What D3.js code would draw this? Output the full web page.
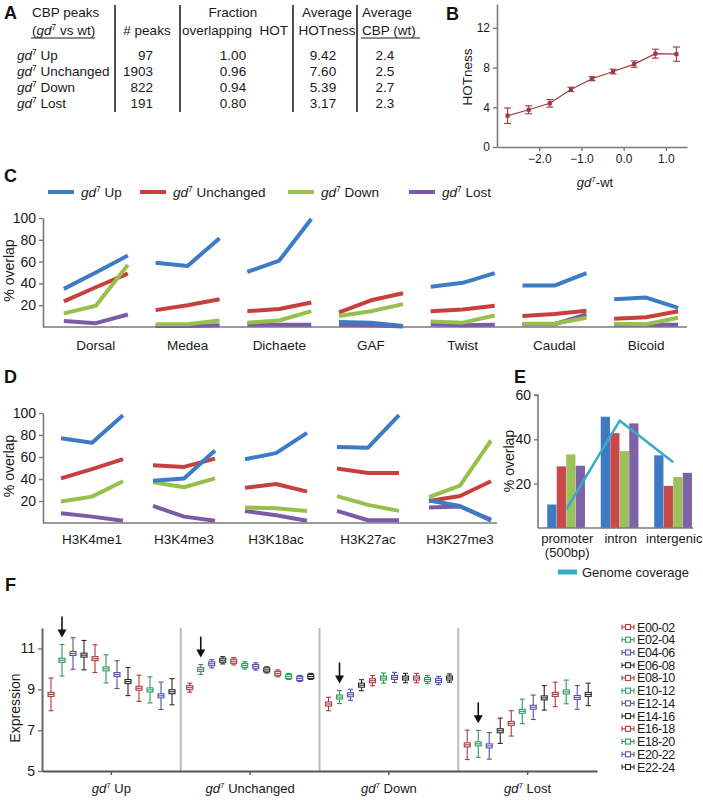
<!DOCTYPE html>
<html><head><meta charset="utf-8">
<script src="https://cdn.jsdelivr.net/npm/d3@7"></script>
<style>
html,body{margin:0;padding:0;background:#fff;}
svg{display:block;font-family:"Liberation Sans",Arial,Helvetica,sans-serif;}
</style></head><body>
<svg id="c" width="703" height="800"></svg>
<script>
// ---------- DATA ----------
// Panel A table
const tableRows = ["Up", "Unchanged", "Down", "Lost"];
const tablePeaks = ["97", "1903", "822", "191"];
const tableFracHOT = ["1.00", "0.96", "0.94", "0.80"];
const tableHOTness = ["9.42", "7.60", "5.39", "3.17"];
const tableCBP = ["2.4", "2.5", "2.7", "2.3"];

// Panel B
const hotX = [-2.75, -2.25, -1.75, -1.25, -0.75, -0.25, 0.25, 0.75, 1.25];
const hotY = [3.15, 3.75, 4.4, 5.8, 6.87, 7.6, 8.35, 9.4, 9.35];
const hotErr = [0.78, 0.4, 0.38, 0.22, 0.2, 0.24, 0.32, 0.45, 0.72];
const hotXTicks = [-2, -1, 0, 1];
const hotYTicks = [0, 4, 8, 12];

// Series (shared by C, D, E)
const seriesNames = ["Up", "Unchanged", "Down", "Lost"];

// Panel C
const tfCats = ["Dorsal", "Medea", "Dichaete", "GAF", "Twist", "Caudal", "Bicoid"];
const cUp   = [[35,50,65.5],[59,56,81.5],[50.5,61,99],[4.5,4,1],[37,40.5,49.5],[38,38,49.5],[25.5,27,17.5]];
const cUnch = [[23.5,36.5,49],[15.5,20,25.5],[14.5,16.5,22.5],[13.5,24.5,31],[14.5,16,19.5],[10,12,15],[7.5,9,14.5]];
const cDown = [[12.5,19.5,57],[2.5,2.5,6],[4,6,14.5],[10,14.5,21],[5,4,10.5],[3,3,8.5],[3,2.5,8.5]];
const cLost = [[5.5,3.5,11.5],[1,1,1.5],[2,2,2],[2,1.5,0.5],[2.5,1.5,2],[2.5,2.5,11.5],[2,2,2]];

// Panel D
const histCats = ["H3K4me1", "H3K4me3", "H3K18ac", "H3K27ac", "H3K27me3"];
const dUp   = [[77,73,98],[38.5,40.5,66],[58,63.5,82],[69,68.5,98],[20.5,15.5,2]];
const dUnch = [[40.5,49,58],[52.5,51,58.5],[32,35.5,28.5],[49.5,45.5,45.5],[20,24.5,38]];
const dDown = [[19.5,24,38],[37,32.5,40.5],[14,13.5,11],[24.5,16.5,11],[23.5,34,75]];
const dLost = [[8.8,5.8,2],[15.5,5.8,2],[11,7,2],[11,2.5,2.5],[14,15,3]];
const overlapTicks = [20, 40, 60, 80, 100];

// Panel E
const regionCats = ["promoter", "intron", "intergenic"];
const regionSub = ["(500bp)", "", ""];
const eUp = [10.6, 50.2, 32.8];
const eUnch = [27.8, 42.8, 19];
const eDown = [33.2, 34.7, 23];
const eLost = [28.1, 47.2, 24.9];
const genomeCov = [8.4, 48.4, 29.7];
const eTicks = [20, 40, 60];

// Panel F
const stages = ["E00-02","E02-04","E04-06","E06-08","E08-10","E10-12","E12-14","E14-16","E16-18","E18-20","E20-22","E22-24"];
const fUp      = [8.75,10.42,10.75,10.67,10.5,10.0,9.72,9.38,9.05,8.97,8.68,8.88];
const fUpErr   = [0.8,0.77,0.77,0.72,0.68,0.69,0.68,0.69,0.64,0.64,0.67,0.64];
const fUnch    = [9.08,9.97,10.25,10.42,10.37,10.17,10.12,9.95,9.78,9.63,9.53,9.63];
const fUnchErr = [0.22,0.24,0.2,0.18,0.18,0.18,0.18,0.15,0.17,0.15,0.15,0.15];
const fDown    = [8.28,8.62,8.73,9.2,9.42,9.55,9.58,9.55,9.55,9.48,9.43,9.55];
const fDownErr = [0.33,0.32,0.27,0.27,0.25,0.25,0.25,0.23,0.23,0.2,0.2,0.2];
const fLost    = [6.28,6.33,6.23,6.97,7.33,7.92,8.12,8.58,8.75,8.87,8.6,8.75];
const fLostErr = [0.72,0.66,0.65,0.62,0.62,0.6,0.6,0.6,0.6,0.58,0.58,0.55];
const fTicks = [5, 7, 9, 11];
const arrowStage = "E02-04";

// ---------- STYLE ----------
const seriesColors = ["#3c7cc4", "#c8403d", "#96c04c", "#7b5ba6"];
const barColors = ["#3e79c6", "#c9484a", "#9cc05a", "#7e62a6"];
const stageColors = ["#b5383e", "#2e9a60", "#5252b0", "#2a2a2a"];
const axisCol = "#7a7a7a";
const txt = "#1a1a1a";

const svg = d3.select("#c");
svg.append("rect").attr("width", 703).attr("height", 800).attr("fill", "#fff");

function addGd(t, fs, suffix) {
  t.append("tspan").attr("font-style", "italic").text("gd");
  t.append("tspan").attr("font-size", fs * 0.62).attr("dy", -fs * 0.38).text("7");
  t.append("tspan").attr("dy", fs * 0.38).text(suffix);
  return t;
}
function panelLabel(ch, x, y) {
  svg.append("text").attr("x", x).attr("y", y).attr("font-size", 18).attr("font-weight", "bold")
    .attr("fill", "#111").text(ch);
}
function styleAxis(g, fs) {
  g.selectAll(".domain").attr("stroke", axisCol).attr("stroke-width", 1.6);
  g.selectAll(".tick line").attr("stroke", axisCol).attr("stroke-width", 1.4);
  g.selectAll(".tick text").attr("font-size", fs).attr("fill", txt)
    .attr("font-family", '"Liberation Sans",Arial,sans-serif');
}

// ---------- PANEL A ----------
panelLabel("A", 4, 19);
const tA = svg.append("g").attr("font-size", 13.5).attr("fill", txt);
tA.append("text").attr("x", 32).attr("y", 17).text("CBP peaks");
const h2 = tA.append("text").attr("x", 32).attr("y", 35);
h2.append("tspan").text("(");
addGd(h2, 13.5, " vs wt)");
tA.append("line").attr("x1", 31).attr("x2", 95).attr("y1", 38).attr("y2", 38).attr("stroke", txt).attr("stroke-width", 1);
tA.append("text").attr("x", 147).attr("y", 35).attr("text-anchor", "middle").text("# peaks");
tA.append("text").attr("x", 233).attr("y", 17).attr("text-anchor", "middle").text("Fraction");
tA.append("text").attr("x", 235).attr("y", 35).attr("text-anchor", "middle").attr("xml:space", "preserve").text("overlapping  HOT");
tA.append("text").attr("x", 327).attr("y", 17).attr("text-anchor", "middle").text("Average");
tA.append("text").attr("x", 327).attr("y", 35).attr("text-anchor", "middle").text("HOTness");
tA.append("text").attr("x", 362).attr("y", 17).text("Average");
tA.append("text").attr("x", 362).attr("y", 35).text("CBP (wt)");
tA.append("line").attr("x1", 361).attr("x2", 420).attr("y1", 38).attr("y2", 38).attr("stroke", txt).attr("stroke-width", 1);
const rowY = d3.scalePoint().domain(tableRows).range([60, 108]);
tableRows.forEach((r, i) => {
  addGd(tA.append("text").attr("x", 17).attr("y", rowY(r)), 13.5, " " + r);
  tA.append("text").attr("x", 153).attr("y", rowY(r)).attr("text-anchor", "end").text(tablePeaks[i]);
  tA.append("text").attr("x", 233).attr("y", rowY(r)).attr("text-anchor", "middle").text(tableFracHOT[i]);
  tA.append("text").attr("x", 323).attr("y", rowY(r)).attr("text-anchor", "middle").text(tableHOTness[i]);
  tA.append("text").attr("x", 385).attr("y", rowY(r)).attr("text-anchor", "middle").text(tableCBP[i]);
});
[115, 180, 293, 357].forEach(x => {
  tA.append("line").attr("x1", x).attr("x2", x).attr("y1", 5).attr("y2", 112)
    .attr("stroke", "#222").attr("stroke-width", 1.6);
});

// ---------- PANEL B ----------
panelLabel("B", 446, 20);
const xB = d3.scaleLinear().domain([-3, 1.5]).range([497, 687]);
const yB = d3.scaleLinear().domain([0, 14.4]).range([147, 4]);
const gBx = svg.append("g").attr("transform", "translate(0,147)")
  .call(d3.axisBottom(xB).tickValues(hotXTicks).tickFormat(d3.format(".1f")).tickSize(4).tickSizeOuter(0));
styleAxis(gBx, 12);
const gBy = svg.append("g").attr("transform", "translate(497,0)")
  .call(d3.axisLeft(yB).tickValues(hotYTicks).tickFormat(d3.format("d")).tickSize(4).tickSizeOuter(0));
styleAxis(gBy, 12);
svg.append("text").attr("transform", "translate(472,77) rotate(-90)").attr("text-anchor", "middle")
  .attr("font-size", 13.5).attr("fill", txt).text("HOTness");
addGd(svg.append("text").attr("x", 595).attr("y", 187).attr("text-anchor", "middle").attr("font-size", 13).attr("fill", txt), 13, "-wt");
const bCol = "#9e3a40";
const bPts = hotX.map((x, i) => ({x, y: hotY[i], e: hotErr[i]}));
svg.append("path").datum(bPts).attr("fill", "none").attr("stroke", bCol).attr("stroke-width", 1.2)
  .attr("d", d3.line().x(d => xB(d.x)).y(d => yB(d.y)));
const bG = svg.append("g").attr("stroke", bCol).attr("stroke-width", 1.1);
bPts.forEach(d => {
  const cx = xB(d.x), t = yB(d.y + d.e), b = yB(d.y - d.e);
  bG.append("line").attr("x1", cx).attr("x2", cx).attr("y1", t).attr("y2", b);
  bG.append("line").attr("x1", cx - 3.5).attr("x2", cx + 3.5).attr("y1", t).attr("y2", t);
  bG.append("line").attr("x1", cx - 3.5).attr("x2", cx + 3.5).attr("y1", b).attr("y2", b);
  bG.append("rect").attr("x", cx - 1.5).attr("y", yB(d.y) - 1.5).attr("width", 3).attr("height", 3).attr("fill", bCol);
});

// ---------- PANEL C & D (line groups) ----------
function linePanel(cats, series, yR, xR, axisX, axisEnd, inner, labelY) {
  const y = d3.scaleLinear().domain([0, 100]).range(yR);
  const x = d3.scaleBand().domain(cats).range(xR);
  const ix = d3.scalePoint().domain([0, 1, 2]).range([-inner, inner]);
  const gy = svg.append("g").attr("transform", `translate(${axisX},0)`)
    .call(d3.axisLeft(y).tickValues(overlapTicks).tickFormat(d3.format("d")).tickSize(4).tickSizeOuter(0));
  styleAxis(gy, 14);
  svg.append("line").attr("x1", axisX).attr("x2", axisEnd).attr("y1", y(0)).attr("y2", y(0))
    .attr("stroke", axisCol).attr("stroke-width", 1.6);
  const order = [3, 1, 2, 0];
  order.forEach(si => {
    cats.forEach((c, ci) => {
      svg.append("path").datum(series[si][ci]).attr("fill", "none")
        .attr("stroke", seriesColors[si]).attr("stroke-width", 4).attr("stroke-linejoin", "round")
        .attr("d", d3.line().x((d, i) => x(c) + x.bandwidth() / 2 + ix(i)).y(d => y(d)));
    });
  });
  cats.forEach(c => {
    svg.append("text").attr("x", x(c) + x.bandwidth() / 2).attr("y", labelY).attr("text-anchor", "middle")
      .attr("font-size", 13.5).attr("fill", txt).text(c);
  });
  svg.append("text").attr("transform", `translate(14,${(yR[0] + yR[1]) / 2 - 2}) rotate(-90)`)
    .attr("text-anchor", "middle").attr("font-size", 14).attr("fill", txt).text("% overlap");
}

panelLabel("C", 4, 182);
const legX = [48, 140, 288, 409];
seriesNames.forEach((s, i) => {
  svg.append("line").attr("x1", legX[i]).attr("x2", legX[i] + 26).attr("y1", 192).attr("y2", 192)
    .attr("stroke", seriesColors[i]).attr("stroke-width", 4);
  addGd(svg.append("text").attr("x", legX[i] + 33).attr("y", 197).attr("font-size", 13.5).attr("fill", txt), 13.5, " " + s);
});
linePanel(tfCats, [cUp, cUnch, cDown, cLost], [327, 218], [50, 692], 43, 687, 32, 350);

panelLabel("D", 4, 383);
linePanel(histCats, [dUp, dUnch, dDown, dLost], [523, 413], [46, 506], 43, 497, 31, 544);

// ---------- PANEL E ----------
panelLabel("E", 514, 383);
const yE = d3.scaleLinear().domain([0, 60]).range([528, 395]);
const xE = d3.scaleBand().domain(regionCats).range([539.5, 700]);
const xEin = d3.scaleBand().domain(seriesNames).range([-19, 19]).padding(0);
const gEy = svg.append("g").attr("transform", "translate(538,0)")
  .call(d3.axisLeft(yE).tickValues(eTicks).tickFormat(d3.format("d")).tickSize(4).tickSizeOuter(0));
styleAxis(gEy, 14);
gEy.select(".domain").attr("d", `M-4,${yE(60)}H0V${yE(0)}`);
const eSeries = [eUp, eUnch, eDown, eLost];
seriesNames.forEach((s, si) => {
  regionCats.forEach((c, ci) => {
    svg.append("rect").attr("x", xE(c) + xE.bandwidth() / 2 + xEin(s)).attr("width", xEin.bandwidth() - 0.3)
      .attr("y", yE(eSeries[si][ci])).attr("height", yE(0) - yE(eSeries[si][ci])).attr("fill", barColors[si]);
  });
});
svg.append("line").attr("x1", 538).attr("x2", 693).attr("y1", yE(0)).attr("y2", yE(0))
  .attr("stroke", axisCol).attr("stroke-width", 1.6);
svg.append("path").datum(genomeCov).attr("fill", "none").attr("stroke", "#3aaacb").attr("stroke-width", 2.5)
  .attr("d", d3.line().x((d, i) => xE(regionCats[i]) + xE.bandwidth() / 2).y(d => yE(d)));
regionCats.forEach((c, i) => {
  svg.append("text").attr("x", xE(c) + xE.bandwidth() / 2 + 1).attr("y", 543).attr("text-anchor", "middle")
    .attr("font-size", 13).attr("fill", txt).text(c);
  if (regionSub[i]) svg.append("text").attr("x", xE(c) + xE.bandwidth() / 2 + 1).attr("y", 557).attr("text-anchor", "middle")
    .attr("font-size", 13).attr("fill", txt).text(regionSub[i]);
});
svg.append("text").attr("transform", "translate(514,461) rotate(-90)").attr("text-anchor", "middle")
  .attr("font-size", 14).attr("fill", txt).text("% overlap");
svg.append("line").attr("x1", 558).attr("x2", 577).attr("y1", 572).attr("y2", 572).attr("stroke", "#3aaacb").attr("stroke-width", 5);
svg.append("text").attr("x", 582).attr("y", 577).attr("font-size", 13).attr("fill", txt).text("Genome coverage");

// ---------- PANEL F ----------
panelLabel("F", 5, 591);
const yF = d3.scaleLinear().domain([5, 12]).range([771, 628]);
const xF = d3.scaleBand().domain(seriesNames).range([42, 597]);
const xFin = d3.scalePoint().domain(stages).range([9, 130]);
const fVals = [fUp, fUnch, fDown, fLost];
const fErrs = [fUpErr, fUnchErr, fDownErr, fLostErr];
// dividers
seriesNames.slice(1).forEach(s => {
  svg.append("line").attr("x1", xF(s)).attr("x2", xF(s)).attr("y1", 628).attr("y2", 771)
    .attr("stroke", "#bdbdbd").attr("stroke-width", 2);
});
const gFy = svg.append("g").attr("transform", "translate(42,0)")
  .call(d3.axisLeft(yF).tickValues(fTicks).tickFormat(d3.format("d")).tickSize(4).tickSizeOuter(0));
styleAxis(gFy, 14);
gFy.select(".domain").attr("stroke", "#666").attr("stroke-width", 2);
const gFx = svg.append("g").attr("transform", "translate(0,771)")
  .call(d3.axisBottom(xF).tickSize(4).tickSizeOuter(0).tickFormat(""));
gFx.selectAll(".domain").attr("stroke", "#555").attr("stroke-width", 2);
gFx.selectAll(".tick line").attr("stroke", "#555").attr("stroke-width", 1.4);
seriesNames.forEach(s => {
  addGd(svg.append("text").attr("x", xF(s) + xF.bandwidth() / 2).attr("y", 793).attr("text-anchor", "middle")
    .attr("font-size", 13).attr("fill", txt), 13, " " + s);
});
svg.append("text").attr("transform", "translate(20,708) rotate(-90)").attr("text-anchor", "middle")
  .attr("font-size", 14).attr("fill", txt).text("Expression");

function errGlyph(g, cx, cy, t, b, col) {
  const gg = g.append("g").attr("stroke", col).attr("stroke-width", 1.1).attr("fill", "none");
  gg.append("line").attr("x1", cx).attr("x2", cx).attr("y1", t).attr("y2", cy - 2);
  gg.append("line").attr("x1", cx).attr("x2", cx).attr("y1", cy + 2).attr("y2", b);
  gg.append("line").attr("x1", cx - 2.5).attr("x2", cx + 2.5).attr("y1", t).attr("y2", t);
  gg.append("line").attr("x1", cx - 2.5).attr("x2", cx + 2.5).attr("y1", b).attr("y2", b);
  gg.append("rect").attr("x", cx - 3).attr("y", cy - 2).attr("width", 6).attr("height", 4).attr("fill", "#fff");
  gg.append("line").attr("x1", cx - 3).attr("x2", cx + 3).attr("y1", cy).attr("y2", cy);
}
const fG = svg.append("g");
seriesNames.forEach((s, gi) => {
  stages.forEach((st, si) => {
    const cx = xF(s) + xFin(st);
    const v = fVals[gi][si], e = fErrs[gi][si];
    errGlyph(fG, cx, yF(v), yF(v + e), yF(v - e), stageColors[si % 4]);
  });
  // arrow above E02-04
  const ai = stages.indexOf(arrowStage);
  const ax = xF(s) + xFin(arrowStage);
  const tip = yF(fVals[gi][ai] + fErrs[gi][ai]) - 7;
  fG.append("line").attr("x1", ax).attr("x2", ax).attr("y1", tip - 21).attr("y2", tip - 6)
    .attr("stroke", "#111").attr("stroke-width", 1.6);
  fG.append("path").attr("d", `M${ax - 4.5},${tip - 8}L${ax + 4.5},${tip - 8}L${ax},${tip}Z`).attr("fill", "#111");
});
// legend
const legY = d3.scalePoint().domain(stages).range([627, 767]);
stages.forEach((st, i) => {
  const y = legY(st), col = stageColors[i % 4];
  const g = svg.append("g").attr("stroke", col).attr("stroke-width", 1.1).attr("fill", "none");
  g.append("line").attr("x1", 622).attr("x2", 634).attr("y1", y).attr("y2", y);
  g.append("line").attr("x1", 622).attr("x2", 622).attr("y1", y - 2.5).attr("y2", y + 2.5);
  g.append("line").attr("x1", 634).attr("x2", 634).attr("y1", y - 2.5).attr("y2", y + 2.5);
  g.append("rect").attr("x", 625.5).attr("y", y - 2.5).attr("width", 5).attr("height", 5).attr("fill", "#fff");
  svg.append("text").attr("x", 637).attr("y", y + 4.5).attr("font-size", 12.5).attr("letter-spacing", -0.4)
    .attr("fill", txt).text(st);
});
</script>
</body></html>
